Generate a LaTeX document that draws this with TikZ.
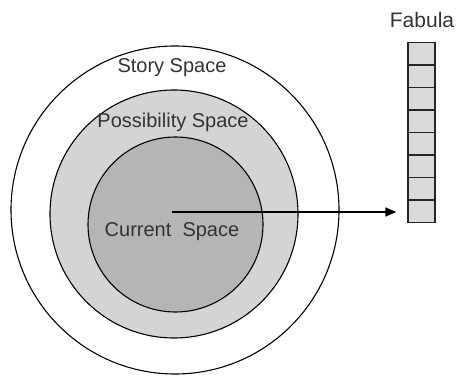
\documentclass[tikz,border=0pt]{standalone}
\usepackage{fontspec}
\setmainfont{Liberation Sans}
\usetikzlibrary{arrows.meta}
\definecolor{txt}{HTML}{333333}
\definecolor{midfill}{HTML}{D4D4D4}
\definecolor{innerfill}{HTML}{B5B5B5}
\definecolor{cellfill}{HTML}{D9D9D9}
\tikzset{
  ring/.style={draw=black, line width=1.1pt, circle, inner sep=0pt},
  lbl/.style={text=txt, font=\fontsize{20}{22}\selectfont, inner sep=0pt},
  cell/.style={draw=black!85, line width=1.3pt, fill=cellfill, minimum width=27pt, minimum height=22.5pt, inner sep=0pt, anchor=north},
  link/.style={line width=1.3pt, -{Triangle[length=11pt,width=9pt]}}
}
\begin{document}
\begin{tikzpicture}[x=1pt,y=-1pt]
\useasboundingbox (0,0) rectangle (458,379);
\node[ring, minimum size=328pt] (story) at (175,210) {};
\node[ring, fill=midfill, minimum size=248pt] (poss) at (174,214) {};
\node[ring, fill=innerfill, minimum size=175pt] (curr) at (175.5,224.5) {};
\node[lbl] (storyl) at (172,68) {Story Space};
\node[lbl] (possl) at (173,122) {Possibility Space};
\node[lbl] (currl) at (172,232) {Current\ \ Space};
\node[lbl, font=\fontsize{21}{23}\selectfont] (fab) at (422,20) {Fabula};
\foreach \i in {0,...,7} {
  \node[cell] (c\i) at (421.5,{42+22.5*\i}) {};
}
\coordinate (start) at (172,212);
\draw[link, shorten >=11pt] (start) -- (start -| c7.west);
\end{tikzpicture}
\end{document}
